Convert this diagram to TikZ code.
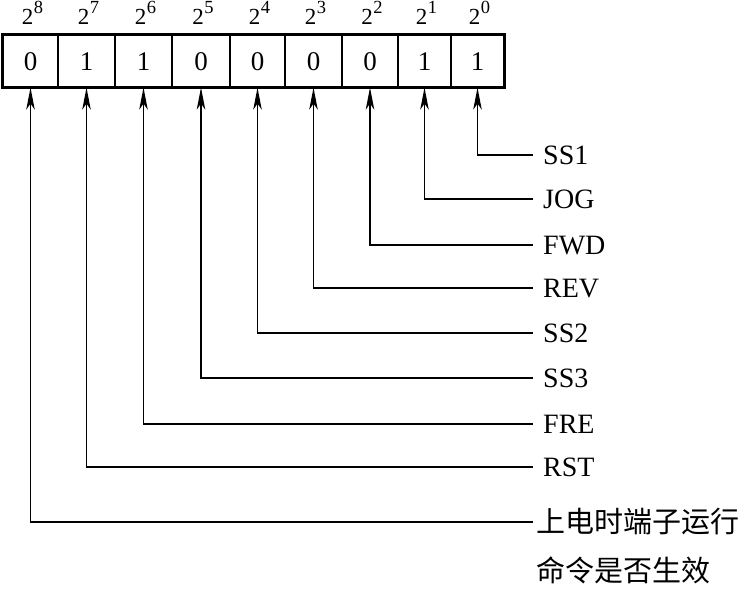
\documentclass[tikz,border=0pt]{standalone}
\usepackage{fontspec}
\setmainfont{Liberation Serif}
\newfontfamily\cjk{Noto Sans CJK SC}
\usetikzlibrary{arrows.meta,calc}
\newcommand{\pw}[1]{2\kern0.5pt\raisebox{11pt}{\fontsize{18.5}{19}\selectfont #1}}
\begin{document}
\begin{tikzpicture}[x=1pt,y=-1pt,
  cell/.style={draw,line width=1.2pt,minimum height=52pt,inner sep=0pt,
    font=\fontsize{27}{30}\selectfont,text height=18pt,text depth=0pt},
  power/.style={anchor=base,inner sep=0pt,font=\fontsize{23}{24}\selectfont},
  lab/.style={anchor=west,inner sep=0pt,xshift=10pt,font=\fontsize{28}{30}\selectfont,
    text height=18.5pt,text depth=0pt},
  cjklab/.style={anchor=west,inner sep=0pt,xshift=3pt,font=\cjk\fontsize{29}{30}\selectfont,
    text height=23pt,text depth=2pt},
  conn/.style={line width=1.5pt,-{Stealth[length=22pt,width=8.5pt,inset=6pt]}}]
\useasboundingbox (0,0) rectangle (742,590);
% cells
\node[cell,minimum width=55pt] (c8) at (30.5,61) {0};
\node[cell,minimum width=57pt] (c7) at (86.5,61) {1};
\node[cell,minimum width=57pt] (c6) at (143.5,61) {1};
\node[cell,minimum width=58pt] (c5) at (201,61) {0};
\node[cell,minimum width=55pt] (c4) at (257.5,61) {0};
\node[cell,minimum width=57pt] (c3) at (313.5,61) {0};
\node[cell,minimum width=56pt] (c2) at (370,61) {0};
\node[cell,minimum width=53pt] (c1) at (424.5,61) {1};
\node[cell,minimum width=53pt] (c0) at (477.5,61) {1};
\draw[line width=2.2pt] (c8.north west) rectangle (c0.south east);
% powers
\foreach \i in {8,7,6,5,4,3,2,1,0}{
  \path (c\i.north) ++(2,-10) node[power] (p\i) {\pw{\i}};
}
% line ends
\coordinate (e0) at (533,155);
\coordinate (e1) at (533,199);
\coordinate (e2) at (533,245);
\coordinate (e3) at (533,288);
\coordinate (e4) at (533,333);
\coordinate (e5) at (533,378);
\coordinate (e6) at (533,424);
\coordinate (e7) at (533,467);
\coordinate (e8) at (533,522);
% labels
\node[lab] (l0) at (e0) {SS1};
\node[lab] (l1) at (e1) {JOG};
\node[lab] (l2) at (e2) {FWD};
\node[lab] (l3) at (e3) {REV};
\node[lab] (l4) at (e4) {SS2};
\node[lab] (l5) at (e5) {SS3};
\node[lab] (l6) at (e6) {FRE};
\node[lab] (l7) at (e7) {RST};
\node[cjklab] (l8) at (e8) {上电时端子运行};
\node[cjklab] (l8b) at (533,571) {命令是否生效};
% connectors
\foreach \i in {0,...,8}{
  \draw[conn] (e\i) -| (c\i.south);
}
\end{tikzpicture}
\end{document}
